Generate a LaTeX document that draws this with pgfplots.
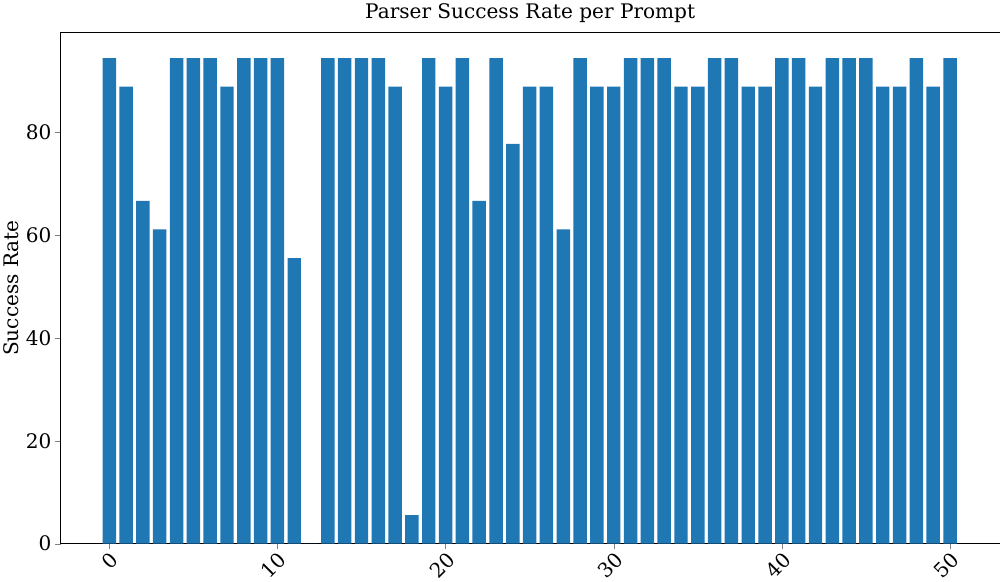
\documentclass[border=0pt]{standalone}
\usepackage{pgfplots}
\pgfplotsset{compat=1.18}
\usepackage{fontspec}
\setmainfont{DejaVu Serif}
\definecolor{mplblue}{HTML}{1F77B4}
\begin{document}
\begin{tikzpicture}
\begin{axis}[
  width=886bp, height=482bp, scale only axis,
  xmin=-2.9, xmax=52.96, ymin=0, ymax=99.4,
  xtick={0,10,20,30,40,50}, ytick={0,20,40,60,80},
  xticklabel style={rotate=45, anchor=north east, inner sep=1pt, font=\fontsize{19}{19}\selectfont},
  yticklabel style={font=\fontsize{19}{19}\selectfont},
  /pgf/number format/assume math mode=true,
  ylabel={Success Rate}, ylabel style={font=\fontsize{19}{19}\selectfont},
  title={Parser Success Rate per Prompt}, title style={font=\fontsize{19}{19}\selectfont},
  tick align=outside, tick pos=lower, major tick length=5bp,
]
\addplot[ybar, bar width=0.8, bar shift=0pt, fill=mplblue, draw=none, mark=none] coordinates {
(0,94.44)(1,88.89)(2,66.67)(3,61.11)(4,94.44)(5,94.44)(6,94.44)(7,88.89)(8,94.44)(9,94.44)
(10,94.44)(11,55.56)(12,0)(13,94.44)(14,94.44)(15,94.44)(16,94.44)(17,88.89)(18,5.56)(19,94.44)
(20,88.89)(21,94.44)(22,66.67)(23,94.44)(24,77.78)(25,88.89)(26,88.89)(27,61.11)(28,94.44)(29,88.89)
(30,88.89)(31,94.44)(32,94.44)(33,94.44)(34,88.89)(35,88.89)(36,94.44)(37,94.44)(38,88.89)(39,88.89)
(40,94.44)(41,94.44)(42,88.89)(43,94.44)(44,94.44)(45,94.44)(46,88.89)(47,88.89)(48,94.44)(49,88.89)
(50,94.44)};
\end{axis}
\end{tikzpicture}
\end{document}
